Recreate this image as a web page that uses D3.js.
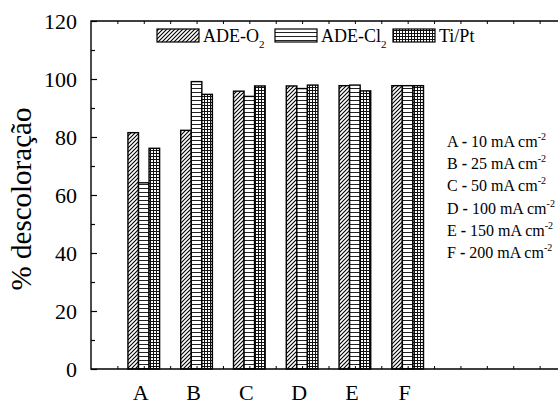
<!DOCTYPE html>
<html>
<head>
<meta charset="utf-8">
<script src="https://cdn.jsdelivr.net/npm/d3@7"></script>
<style>
  html, body { margin: 0; padding: 0; background: #fff; }
  svg { display: block; }
  text, tspan { font-family: "Liberation Serif" !important; }
</style>
</head>
<body>
<svg id="chart" width="558" height="404" font-family="Liberation Serif"></svg>
<script>
const categories = ["A", "B", "C", "D", "E", "F"];
const seriesNames = ["ADE-O2", "ADE-Cl2", "Ti/Pt"];
const adeO2 = [81.5, 82.3, 95.8, 97.6, 97.7, 97.7];
const adeCl2 = [64.2, 99.1, 94.0, 96.7, 97.9, 97.7];
const tiPt = [76.1, 94.7, 97.6, 97.9, 95.9, 97.7];
const yTicks = [0, 20, 40, 60, 80, 100, 120];
const currentLabels = ["A", "B", "C", "D", "E", "F"];
const currentValues = ["10", "25", "50", "100", "150", "200"];

const seriesValues = [adeO2, adeCl2, tiPt];
const patterns = ["diag", "horiz", "grid"];
const FONT = "Liberation Serif";

const svg = d3.select("#chart");
const mLeft = 91, mRight = 566, mTop = 21, mBottom = 369;

const x = d3.scaleLinear().domain([0, 9]).range([mLeft, mRight]);
const y = d3.scaleLinear().domain([0, 120]).range([mBottom, mTop]);
const sub = d3.scaleBand().domain(seriesNames).range([-0.3, 0.3]);

// patterns
const defs = svg.append("defs");
const pd = defs.append("pattern").attr("id", "diag").attr("patternUnits", "userSpaceOnUse")
  .attr("width", 4).attr("height", 4);
pd.append("rect").attr("width", 4).attr("height", 4).attr("fill", "#fff");
pd.append("path").attr("d", "M-1,1 L1,-1 M0,4 L4,0 M3,5 L5,3")
  .attr("stroke", "#000").attr("stroke-width", 1.1);

const ph = defs.append("pattern").attr("id", "horiz").attr("patternUnits", "userSpaceOnUse")
  .attr("width", 4).attr("height", 4);
ph.append("rect").attr("width", 4).attr("height", 4).attr("fill", "#fff");
ph.append("line").attr("x1", 0).attr("x2", 4).attr("y1", 0.5).attr("y2", 0.5)
  .attr("stroke", "#222").attr("stroke-width", 1);

const pg = defs.append("pattern").attr("id", "grid").attr("patternUnits", "userSpaceOnUse")
  .attr("width", 3).attr("height", 3);
pg.append("rect").attr("width", 3).attr("height", 3).attr("fill", "#fff");
pg.append("path").attr("d", "M0,0.5 H3 M0.5,0 V3")
  .attr("stroke", "#111").attr("stroke-width", 1);

// bars
const g = svg.append("g");
seriesNames.forEach((s, si) => {
  g.selectAll(null).data(seriesValues[si]).enter().append("rect")
    .attr("x", (d, i) => x(i + 1 + sub(s)))
    .attr("width", x(sub.bandwidth()) - x(0))
    .attr("y", d => y(d))
    .attr("height", d => y(0) - y(d))
    .attr("fill", `url(#${patterns[si]})`)
    .attr("stroke", "#000")
    .attr("stroke-width", 1.4);
});

// frame
svg.append("path")
  .attr("d", `M${mRight},${mTop} H${mLeft} V${mBottom} H${mRight}`)
  .attr("fill", "none").attr("stroke", "#000").attr("stroke-width", 1.4);

// y axis
const yAxis = d3.axisLeft(y).tickValues(yTicks).tickSizeInner(-6).tickSizeOuter(0).tickPadding(14);
const ya = svg.append("g").attr("transform", `translate(${mLeft},0)`).call(yAxis);
ya.attr("font-family", FONT).attr("font-size", 22);
ya.select(".domain").remove();
ya.selectAll("text").attr("font-family", FONT).attr("font-size", 22).attr("fill", "#000");
ya.selectAll("line").attr("stroke", "#000").attr("stroke-width", 1.2);
const yMinor = d3.axisLeft(y).tickValues(d3.range(10, 120, 20)).tickSize(-4).tickFormat("");
const ym = svg.append("g").attr("transform", `translate(${mLeft},0)`).call(yMinor);
ym.select(".domain").remove();
ym.selectAll("line").attr("stroke", "#000").attr("stroke-width", 1.2);

// x axis ticks (bottom and top, inward)
const xTickVals = d3.range(0.5, 9, 0.5);
const xb = svg.append("g").attr("transform", `translate(0,${mBottom})`)
  .call(d3.axisBottom(x).tickValues(xTickVals).tickSize(-3).tickFormat(""));
xb.select(".domain").remove();
xb.selectAll("line").attr("stroke", "#000").attr("stroke-width", 1);
const xt = svg.append("g").attr("transform", `translate(0,${mTop})`)
  .call(d3.axisTop(x).tickValues(xTickVals).tickSize(-3).tickFormat(""));
xt.select(".domain").remove();
xt.selectAll("line").attr("stroke", "#000").attr("stroke-width", 1);

// x category labels
svg.append("g").selectAll("text").data(categories).enter().append("text")
  .attr("x", (d, i) => x(i + 1) - 3)
  .attr("y", 400)
  .attr("text-anchor", "middle")
  .attr("font-size", 22)
  .attr("font-family", FONT)
  .text(d => d);

// y title
svg.append("text")
  .attr("transform", `translate(31,199) rotate(-90)`)
  .attr("text-anchor", "middle")
  .attr("font-size", 29)
  .attr("font-family", FONT)
  .attr("style", "font-family: 'Liberation Serif'")
  .text("% descoloração");

// legend
const legendItems = [
  { base: "ADE-O", subTxt: "2", sx: 157 },
  { base: "ADE-Cl", subTxt: "2", sx: 275 },
  { base: "Ti/Pt", subTxt: "", sx: 393 }
];
legendItems.forEach((it, i) => {
  svg.append("rect").attr("x", it.sx).attr("y", 29).attr("width", 42).attr("height", 13)
    .attr("fill", `url(#${patterns[i]})`).attr("stroke", "#000").attr("stroke-width", 1.2);
  const t = svg.append("text").attr("x", it.sx + 46).attr("y", 42).attr("font-size", 18)
    .attr("font-family", FONT);
  t.append("tspan").text(it.base);
  if (it.subTxt) t.append("tspan").attr("dy", 6).attr("font-size", 11).text(it.subTxt);
});

// current density annotations
const ann = svg.append("g");
currentLabels.forEach((c, i) => {
  const t = ann.append("text").attr("x", 447).attr("y", 147 + i * 22.2).attr("font-size", 16)
    .attr("font-family", FONT);
  t.append("tspan").text(c + " ");
  t.append("tspan").attr("font-weight", "bold").text("-");
  t.append("tspan").text(" " + currentValues[i] + " mA cm");
  t.append("tspan").attr("dy", -7).attr("font-size", 10).text("-2");
});
</script>
</body>
</html>
